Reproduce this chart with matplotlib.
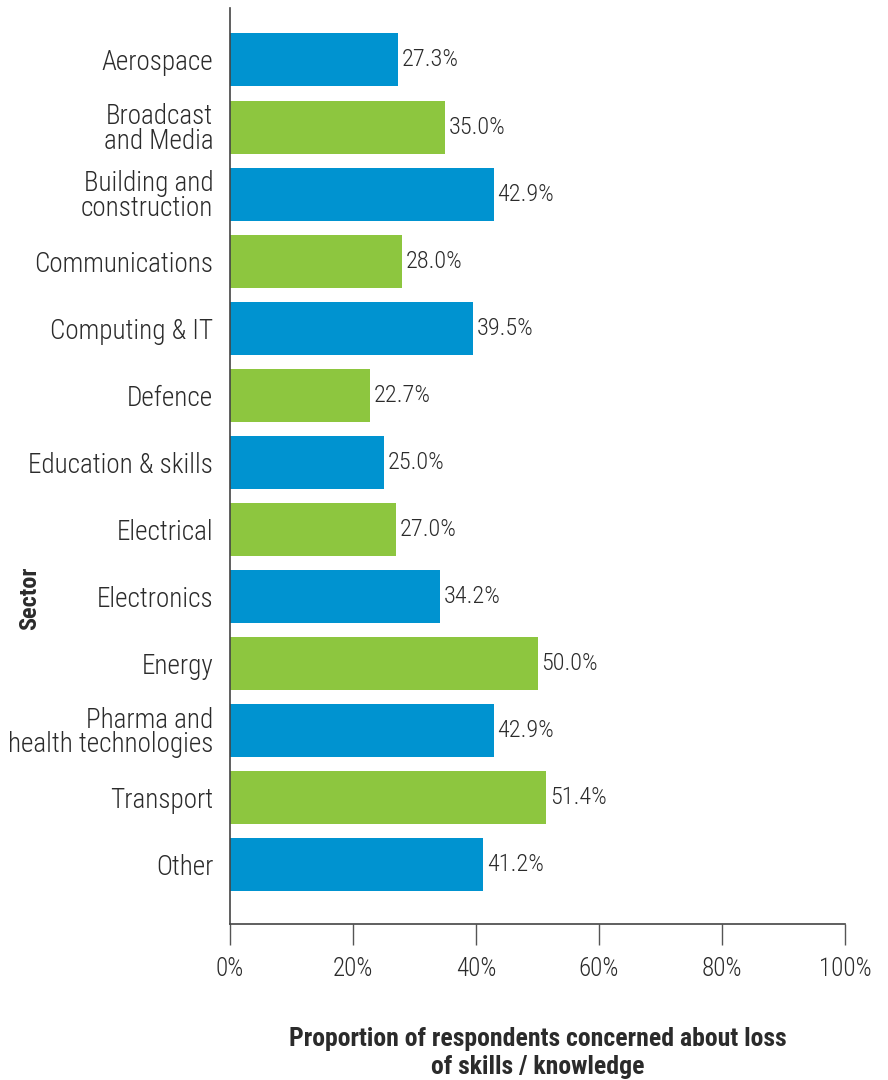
import matplotlib.pyplot as plt
from matplotlib.ticker import FuncFormatter

# sectors top to bottom, share of respondents (%)
sectors = ['Aerospace', 'Broadcast\nand Media', 'Building and\nconstruction',
           'Communications', 'Computing & IT', 'Defence', 'Education & skills',
           'Electrical', 'Electronics', 'Energy', 'Pharma and\nhealth technologies',
           'Transport', 'Other']
values = [27.3, 35.0, 42.9, 28.0, 39.5, 22.7, 25.0, 27.0, 34.2, 50.0, 42.9, 51.4, 41.2]
x_ticks = [0, 20, 40, 60, 80, 100]

blue = '#0093d0'
green = '#8dc63f'
txt = '#2b2b2b'

plt.rcParams['font.family'] = ['Roboto Condensed', 'Lato', 'DejaVu Sans']

fig = plt.figure(figsize=(8.88, 10.8), dpi=100)
ax = fig.add_axes([230/888, 1 - 924/1080, 615/888, 916/1080])

pos = list(range(len(sectors)))
cols = [blue if i % 2 == 0 else green for i in pos]
ax.barh(pos, values, height=0.79, color=cols)
for p, v in zip(pos, values):
    ax.text(v + 0.6, p, '%.1f%%' % v, va='center', ha='left', fontsize=17.5,
            fontweight='light', color=txt)

ax.set_xlim(0, 100)
ax.set_ylim(12.88, -0.775)
ax.set_yticks(pos)
ax.set_yticklabels(sectors, fontsize=19.5, fontweight='light', color=txt, linespacing=0.88)
ax.set_xticks(x_ticks)
ax.xaxis.set_major_formatter(FuncFormatter(lambda v, _: '%d%%' % v))
for lb in ax.get_xticklabels():
    lb.set_fontweight('light')
ax.tick_params(axis='x', length=15, width=1, color='#555555', labelsize=18,
               labelcolor=txt, pad=9)
ax.tick_params(axis='y', length=0, pad=12)

for s in ['top', 'right']:
    ax.spines[s].set_visible(False)
for s in ['left', 'bottom']:
    ax.spines[s].set_color('#444444')
    ax.spines[s].set_linewidth(1.2)

ax.set_xlabel('Proportion of respondents concerned about loss\nof skills / knowledge',
              fontsize=18.5, fontweight='bold', color=txt, labelpad=33, linespacing=1.22)
fig.text(30/888, 1 - 598/1080, 'Sector', rotation=90, fontsize=17.5, fontweight='bold',
         color=txt, ha='center', va='center')

fig.savefig('out.png', dpi=100)
